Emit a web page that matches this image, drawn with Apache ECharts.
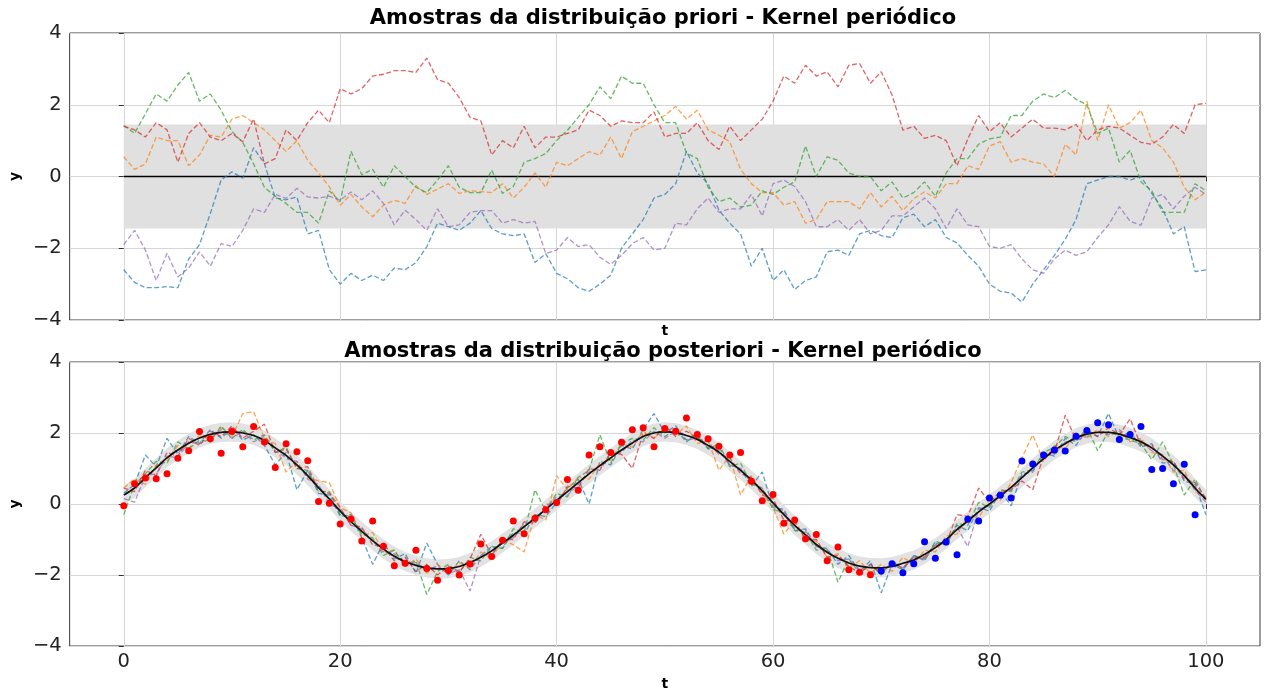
<!DOCTYPE html>
<html>
<head>
<meta charset="utf-8">
<title>Amostras - Kernel periódico</title>
<script src="https://cdn.jsdelivr.net/npm/echarts@6/dist/echarts.min.js"></script>
<style>
  html, body { margin: 0; padding: 0; background: #ffffff; }
  #chart { width: 1265px; height: 692px; }
</style>
</head>
<body>
<div id="chart"></div>
<script>
// Time grid shared by all sample paths
const t = [0,1,2,3,4,5,6,7,8,9,10,11,12,13,14,15,16,17,18,19,20,21,22,23,24,25,26,27,28,29,30,31,32,33,34,35,36,37,38,39,40,41,42,43,44,45,46,47,48,49,50,51,52,53,54,55,56,57,58,59,60,61,62,63,64,65,66,67,68,69,70,71,72,73,74,75,76,77,78,79,80,81,82,83,84,85,86,87,88,89,90,91,92,93,94,95,96,97,98,99,100];

// Tick labels
const xTicks = [0, 20, 40, 60, 80, 100];
const yTicks = [-4, -2, 0, 2, 4];

// ---- Prior: zero mean, constant band, five sampled paths ----
const priorMeanT = [0, 100];
const priorMean = [0, 0];
const priorHalfWidth = 1.45;

const priorBlue = [
  -2.6,-2.95,-3.1,-3.1,-3.07,-3.1,-2.3,-1.9,-1.03,-0.1,0.13,-0.05,0.8,0.36,-0.6,-0.65,-0.57,-1.6,-1.5,-2.6,-3.0,-2.7,-2.9,-2.75,-2.9,
  -2.55,-2.6,-2.4,-1.96,-1.3,-1.4,-1.5,-1.3,-0.95,-1.45,-1.6,-1.65,-1.6,-2.4,-2.15,-2.7,-2.85,-3.1,-3.2,-3.0,-2.75,-2.0,-1.6,-1.2,-0.6,-0.5,-0.2,0.7,
  0.1,-0.2,-0.94,-1.3,-1.6,-2.5,-2.0,-2.9,-2.6,-3.15,-2.9,-2.8,-2.1,-2.05,-2.2,-1.6,-1.5,-1.65,-1.7,-1.15,-1.05,-1.4,-1.2,-1.7,-1.85,
  -2.2,-2.5,-3.0,-3.2,-3.25,-3.5,-3.0,-2.6,-2.2,-1.75,-1.2,-0.2,-0.1,0.0,0.0,-0.1,0.0,-0.47,-0.9,-1.6,-1.4,-2.65,-2.6
];
const priorOrange = [
  0.55,0.2,0.35,1.1,1.0,1.0,0.3,0.6,1.15,1.1,1.6,1.7,1.5,1.3,1.0,0.7,1.0,0.45,0.1,-0.29,-0.8,-0.5,-0.85,-1.12,-0.8,
  -0.66,-0.75,-0.25,-0.5,-0.35,-0.2,-0.47,-0.4,-0.42,-0.45,-0.2,-0.6,-0.3,0.1,-0.3,0.4,0.3,0.5,0.69,0.6,1.1,0.5,1.25,1.4,1.55,1.7,1.95,1.6,
  1.85,1.3,1.15,0.97,0.2,-0.2,-0.45,-0.45,-0.8,-0.7,-1.3,-1.2,-0.7,-0.7,-0.7,-0.9,-0.45,-0.85,-0.55,-0.95,-0.62,-0.43,-0.6,-0.2,-0.2,
  0.3,0.2,0.85,0.97,0.4,0.5,0.4,0.35,0.0,0.9,0.6,2.1,1.0,2.0,1.35,1.5,1.85,1.0,0.8,0.4,-0.3,-0.65,-0.43
];
const priorGreen = [
  1.43,1.2,1.75,2.3,2.1,2.55,2.9,2.1,2.3,1.85,1.25,0.95,0.35,-0.3,-0.55,-0.75,-1.0,-1.0,-1.3,-0.4,-0.7,0.7,0.05,0.2,-0.3,
  0.3,0.0,-0.3,-0.45,-0.1,0.3,-0.3,-0.45,-0.45,0.18,-0.47,-0.28,0.4,0.5,0.64,1.0,1.29,1.65,2.0,2.5,2.17,2.8,2.6,2.6,2.0,1.5,1.5,0.65,
  0.5,-0.3,-0.7,-0.6,-0.85,-0.8,-0.4,-0.5,-0.3,-0.15,0.85,0.0,0.55,0.45,0.1,0.0,0.0,-0.4,-0.15,-0.6,-0.45,-0.15,-0.55,0.1,0.5,
  0.5,0.9,1.05,1.1,1.7,1.7,2.1,2.3,2.2,2.4,2.15,2.0,1.2,1.35,0.4,0.73,-0.15,-0.4,-1.0,-1.0,-1.0,-0.2,-0.4
];
const priorRed = [
  1.4,1.3,1.1,1.5,1.3,0.4,1.2,1.5,1.1,1.0,1.2,0.97,1.6,0.35,0.5,1.3,1.0,1.5,1.85,1.5,2.45,2.3,2.45,2.8,2.85,
  2.95,2.95,2.9,3.3,2.7,2.6,2.2,1.65,1.55,0.6,1.0,0.8,1.4,0.8,1.1,1.1,1.2,1.3,1.85,1.7,1.4,1.55,1.5,1.5,1.8,1.1,1.2,1.2,
  1.5,1.0,0.75,1.4,1.0,1.3,1.6,2.1,2.8,2.6,3.1,2.8,2.92,2.5,3.1,3.15,2.6,2.92,2.27,1.29,1.4,1.06,1.15,1.0,0.3,
  1.05,1.7,1.25,1.5,1.1,1.35,1.6,1.35,1.35,1.3,1.45,1.0,1.3,1.4,1.35,1.15,0.95,0.9,1.1,1.45,1.2,2.0,2.04
];
const priorPurple = [
  -1.9,-1.5,-2.05,-2.9,-2.14,-2.8,-2.55,-2.1,-2.5,-1.87,-1.95,-1.5,-0.9,-1.0,-0.5,-0.61,-0.33,-0.57,-0.6,-0.55,-0.66,-0.43,-0.65,-0.4,-0.75,
  -1.35,-0.94,-1.2,-1.5,-0.9,-1.4,-1.35,-1.0,-0.95,-0.95,-1.3,-1.2,-1.3,-1.25,-2.15,-2.05,-1.7,-1.95,-1.9,-2.25,-2.45,-2.2,-1.87,-1.7,-2.05,-2.0,-1.3,-1.35,
  -0.9,-0.6,-1.0,-0.9,-0.9,-0.5,-1.1,-0.2,-0.1,-0.28,-0.7,-1.4,-1.4,-1.2,-1.5,-1.2,-1.6,-1.5,-1.1,-1.1,-0.85,-0.6,-0.9,-1.45,-0.9,
  -1.35,-1.4,-1.95,-2.0,-1.9,-2.3,-2.6,-2.7,-2.3,-2.05,-2.2,-2.1,-1.7,-1.35,-0.84,-1.25,-1.36,-0.6,-0.5,-0.9,-0.55,-0.3,-0.5
];

// ---- Posterior: mean, band, five sampled paths, observations ----
const postHalfWidth = 0.27;
const postMean = [
  0.25,0.45,0.74,1.02,1.30,1.52,1.71,1.86,1.96,2.02,2.03,2.00,1.93,1.79,1.58,1.37,1.10,0.80,0.46,0.14,-0.20,-0.50,-0.77,-1.03,-1.27,
  -1.47,-1.62,-1.73,-1.80,-1.83,-1.82,-1.76,-1.65,-1.50,-1.32,-1.10,-0.88,-0.64,-0.40,-0.15,0.10,0.35,0.60,0.85,1.08,1.30,1.52,1.72,1.90,2.00,
  2.03,2.01,1.93,1.82,1.65,1.46,1.20,0.95,0.68,0.37,0.03,-0.30,-0.60,-0.87,-1.14,-1.36,-1.53,-1.66,-1.75,-1.79,-1.80,-1.76,-1.67,-1.58,-1.42,
  -1.23,-1.00,-0.72,-0.48,-0.22,0.00,0.23,0.47,0.74,1.02,1.27,1.52,1.70,1.87,1.97,2.02,2.02,1.97,1.87,1.75,1.58,1.35,1.10,0.80,0.45,0.13
];
const postBlue = [
  0.30,0.55,1.38,1.05,1.85,1.40,1.90,1.70,2.10,1.85,2.15,1.80,1.95,1.65,1.10,1.45,0.40,0.95,0.30,0.25,-0.35,-0.30,-0.95,-1.70,-1.10,
  -1.55,-1.40,-1.95,-1.10,-1.70,-2.00,-1.60,-1.85,-1.45,-1.20,-1.25,-0.80,-0.85,-0.30,-0.35,0.05,0.45,0.70,0.00,1.20,1.10,1.65,1.55,2.10,2.55,
  2.00,2.20,1.80,1.95,1.55,1.60,1.10,1.00,0.50,0.90,-0.10,-0.15,-0.75,-0.70,-1.20,-1.25,-1.70,-1.45,-1.90,-1.60,-2.50,-1.70,-1.85,-1.45,-1.60,
  -1.05,-1.15,-0.60,-0.75,-0.10,-0.20,0.35,-0.05,0.85,0.90,1.45,1.35,1.85,1.65,2.10,1.90,2.55,1.85,2.05,1.60,1.70,1.15,1.20,0.65,0.55,-0.30
];
const postOrange = [
  0.45,0.70,0.55,1.10,1.20,1.65,1.55,1.95,1.80,2.15,1.90,2.55,2.60,1.85,1.70,0.90,1.20,0.75,0.65,0.60,-0.10,-0.25,-0.90,-0.80,-1.35,
  -1.30,-1.75,-1.55,-1.95,-1.70,-1.95,-1.65,-1.80,-1.35,-1.55,-1.00,-1.15,-1.35,-0.30,-0.45,0.80,0.40,0.75,0.70,1.15,1.25,1.70,1.60,2.05,1.85,
  2.15,1.95,2.20,1.70,1.80,0.95,1.35,0.25,0.80,0.30,-0.10,-0.85,-0.45,-1.00,-1.05,-1.50,-1.40,-1.80,-1.60,-1.95,-1.70,-1.90,-1.50,-1.70,-1.30,
  -1.35,-0.90,-0.85,-0.35,-0.40,0.15,0.10,0.60,1.30,1.95,1.20,1.65,1.55,2.00,1.85,2.10,1.90,2.05,1.75,1.85,1.45,1.40,0.90,0.95,0.35,0.20
];
const postGreen = [
  -0.30,0.55,0.85,1.20,1.15,1.75,1.55,1.80,1.75,2.20,1.85,2.10,1.80,1.95,1.45,1.60,1.00,0.95,0.35,0.35,-0.30,-0.35,-0.85,-0.95,-1.45,
  -1.30,-1.75,-1.60,-2.55,-1.90,-1.70,-1.95,-1.50,-1.60,-1.20,-1.25,-0.70,-0.80,0.40,-0.20,0.30,0.20,0.75,0.95,1.95,1.15,1.70,1.85,1.80,2.15,
  1.90,2.10,1.75,2.00,1.55,1.70,1.05,1.15,0.55,0.45,-0.15,-0.25,-0.75,-0.80,-1.30,-1.25,-2.20,-1.55,-1.95,-1.70,-2.00,-1.60,-1.85,-1.45,-1.55,
  -1.10,-1.15,-0.55,-0.60,0.05,-0.10,0.40,0.35,0.90,0.95,1.45,1.60,1.90,1.75,2.15,1.50,2.05,1.90,1.80,1.70,1.25,1.75,1.10,0.25,0.70,0.10
];
const postRed = [
  0.45,0.35,0.95,0.80,1.45,1.35,1.85,1.65,2.05,1.90,2.20,1.85,2.05,2.25,1.45,1.55,1.00,1.05,0.40,0.30,-0.10,-0.60,-0.65,-1.15,-1.20,
  -1.60,-1.50,-1.90,-1.70,-2.00,-1.75,-1.90,-1.55,-0.85,-1.45,-1.00,-1.00,-0.50,-0.55,0.00,-0.05,0.50,0.45,1.00,0.95,1.45,1.40,1.00,2.00,1.85,
  2.20,1.90,2.05,1.85,1.75,1.40,1.30,0.85,0.75,0.25,0.15,-0.45,-0.50,-1.00,-1.00,-1.50,-1.45,-1.75,-1.95,-1.70,-1.95,-1.65,-1.80,-1.50,-1.50,
  -1.15,-1.10,-0.30,-0.35,0.45,0.05,0.35,0.40,0.65,0.40,1.35,1.45,2.50,1.80,2.05,1.90,2.15,1.95,2.40,1.65,1.65,1.25,1.20,0.70,0.60,0.15
];
const postPurple = [
  0.15,0.05,0.80,0.85,1.35,1.30,1.75,1.70,1.85,2.10,1.85,2.05,1.75,1.90,1.50,1.30,1.20,0.70,0.55,0.00,-0.15,-0.60,-0.70,-1.05,-1.35,
  -1.40,-1.70,-1.65,-1.85,-1.75,-1.95,-1.85,-2.45,-1.45,-1.40,-1.05,-0.95,-0.55,-0.50,-0.10,0.20,0.25,0.55,0.90,1.00,1.40,1.45,1.80,1.75,2.05,
  1.85,2.05,1.80,1.85,1.60,1.50,1.10,1.00,0.60,0.45,-0.05,-0.20,-0.70,-0.75,-1.20,-1.30,-1.60,-1.55,-1.85,-1.70,-1.90,-1.70,-1.80,-1.50,-1.55,
  -1.20,-1.05,-0.65,-1.20,-0.15,-0.05,0.30,0.40,0.80,0.95,1.35,1.40,1.75,1.80,1.90,2.05,1.95,2.10,1.85,1.80,1.50,1.35,0.95,0.85,0.40,0.05
];

// Observations: training points (t = 0..69) and held-out points (t = 70..99)
const trainT = t.slice(0, 70);
const trainY = [
  -0.05,0.57,0.73,0.71,0.85,1.29,1.50,2.04,1.84,1.43,
  2.04,1.61,2.18,1.75,1.03,1.70,1.47,1.22,0.07,0.02,
  -0.56,-0.42,-1.04,-0.48,-1.19,-1.74,-1.67,-1.30,-1.82,-2.15,
  -1.87,-2.00,-1.69,-1.13,-1.48,-1.02,-0.48,-0.84,-0.40,-0.16,
  0.04,0.69,0.39,1.38,1.61,1.45,1.74,2.09,2.15,1.61,
  2.13,2.05,2.42,1.96,1.84,1.63,1.38,1.45,0.64,0.09,
  0.27,-0.54,-0.45,-0.98,-0.86,-1.60,-1.21,-1.85,-1.92,-1.99
];
const testT = t.slice(70, 100);
const testY = [
  -1.89,-1.68,-1.94,-1.68,-1.06,-1.53,-1.07,-1.43,-0.43,-0.48,
  0.17,0.25,0.17,1.21,1.13,1.38,1.52,1.49,1.91,2.07,
  2.29,2.23,1.82,1.96,2.18,0.97,1.00,0.57,1.12,-0.30
];

const sampleColors = ['#1f77b4', '#ff7f0e', '#2ca02c', '#d62728', '#9467bd'];
const priorSamples = [priorBlue, priorOrange, priorGreen, priorRed, priorPurple];
const postSamples = [postBlue, postOrange, postGreen, postRed, postPurple];

const FONT = '"DejaVu Sans", "Liberation Sans", sans-serif';
const pairs = (xs, ys) => ys.map((v, i) => [xs[i], v]);
const withMinus = v => String(v).replace('-', '\u2212');

function sampleSeries(values, color, idx) {
  return {
    type: 'line', xAxisIndex: idx, yAxisIndex: idx,
    data: pairs(t, values), symbol: 'none', silent: true, z: 3,
    lineStyle: { color: color, width: 1.3, type: [5, 2.5], opacity: 0.72 }
  };
}

// Shaded band: one polygon running along the upper edge and back along the lower edge
function bandSeries(xs, lower, upper, idx, color) {
  return {
    type: 'custom', xAxisIndex: idx, yAxisIndex: idx, silent: true, z: 1,
    data: [[xs[0], lower[0]]],
    renderItem: function (params, api) {
      const pts = [];
      for (let i = 0; i < xs.length; i++) pts.push(api.coord([xs[i], upper[i]]));
      for (let i = xs.length - 1; i >= 0; i--) pts.push(api.coord([xs[i], lower[i]]));
      return { type: 'polygon', shape: { points: pts }, style: { fill: color } };
    }
  };
}

function xAxisCfg(idx, showLabels, gap) {
  return {
    type: 'value', gridIndex: idx, min: -5, max: 105,
    axisLine: { show: false },
    axisTick: { show: true, length: 5, customValues: xTicks, lineStyle: { color: '#333', width: 1 } },
    axisLabel: { show: showLabels, customValues: xTicks, fontSize: 19.5, color: '#222', fontFamily: FONT, margin: 6 },
    splitLine: { show: true, lineStyle: { color: '#d6d6d6', width: 1 } },
    name: 't', nameLocation: 'middle', nameGap: gap,
    nameTextStyle: { fontFamily: FONT, fontWeight: 'bold', fontSize: 14, color: '#000' }
  };
}

function yAxisCfg(idx) {
  return {
    type: 'value', gridIndex: idx, min: yTicks[0], max: yTicks[yTicks.length - 1], interval: 2,
    axisLine: { show: false },
    axisTick: { show: true, length: 5, lineStyle: { color: '#333', width: 1 } },
    axisLabel: { fontSize: 19.5, color: '#222', fontFamily: FONT, margin: 8, formatter: withMinus },
    splitLine: { show: true, lineStyle: { color: '#d6d6d6', width: 1 } },
    name: 'y', nameLocation: 'middle', nameGap: 47,
    nameTextStyle: { fontFamily: FONT, fontWeight: 'bold', fontSize: 14, color: '#000' }
  };
}

const priorLower = priorMean.map(m => m - priorHalfWidth);
const priorUpper = priorMean.map(m => m + priorHalfWidth);
const postLower = postMean.map(m => m - postHalfWidth);
const postUpper = postMean.map(m => m + postHalfWidth);

const series = [];
series.push(bandSeries(priorMeanT, priorLower, priorUpper, 0, '#e0e0e0'));
series.push({
  type: 'line', xAxisIndex: 0, yAxisIndex: 0, data: pairs(priorMeanT, priorMean),
  symbol: 'none', silent: true, z: 2, lineStyle: { color: '#000', width: 1.5 }
});
priorSamples.forEach((s, i) => series.push(sampleSeries(s, sampleColors[i], 0)));

series.push(bandSeries(t, postLower, postUpper, 1, '#e2e2e2'));
postSamples.forEach((s, i) => series.push(sampleSeries(s, sampleColors[i], 1)));
series.push({
  type: 'line', xAxisIndex: 1, yAxisIndex: 1, data: pairs(t, postMean),
  symbol: 'none', silent: true, z: 4, smooth: 0.3, lineStyle: { color: '#111', width: 1.7 }
});
series.push({
  type: 'scatter', xAxisIndex: 1, yAxisIndex: 1, data: pairs(trainT, trainY),
  symbol: 'circle', symbolSize: 7, silent: true, z: 5, itemStyle: { color: '#ff0000', opacity: 1 }
});
series.push({
  type: 'scatter', xAxisIndex: 1, yAxisIndex: 1, data: pairs(testT, testY),
  symbol: 'circle', symbolSize: 7, silent: true, z: 5, itemStyle: { color: '#0000ff', opacity: 1 }
});

const titleFont = 'bold 21px ' + FONT;
const option = {
  animation: false,
  backgroundColor: '#ffffff',
  grid: [
    { left: 67, top: 33, width: 1193, height: 287, show: true, borderColor: '#3a3a3a', borderWidth: 1, backgroundColor: '#ffffff' },
    { left: 67, top: 362, width: 1193, height: 289, show: true, borderColor: '#3a3a3a', borderWidth: 1, backgroundColor: '#ffffff' }
  ],
  xAxis: [xAxisCfg(0, false, 4), xAxisCfg(1, true, 31)],
  yAxis: [yAxisCfg(0), yAxisCfg(1)],
  graphic: [
    { type: 'text', x: 663, y: 19, silent: true,
      style: { text: 'Amostras da distribuição priori - Kernel periódico', font: titleFont, fill: '#000',
               align: 'center', verticalAlign: 'middle', textAlign: 'center', textVerticalAlign: 'middle' } },
    { type: 'text', x: 663, y: 352, silent: true,
      style: { text: 'Amostras da distribuição posteriori - Kernel periódico', font: titleFont, fill: '#000',
               align: 'center', verticalAlign: 'middle', textAlign: 'center', textVerticalAlign: 'middle' } }
  ],
  series: series
};

const chart = echarts.init(document.getElementById('chart'), null, { renderer: 'canvas' });
chart.setOption(option);
</script>
</body>
</html>
